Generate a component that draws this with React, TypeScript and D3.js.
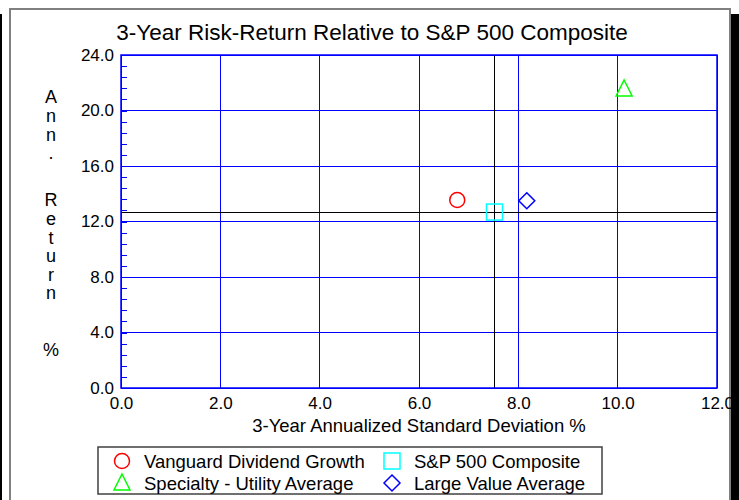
import React, { useEffect, useRef } from 'react';
import * as d3 from 'd3';

// fund + benchmark risk/return points
const seriesNames = [
  'Vanguard Dividend Growth',
  'S&P 500 Composite',
  'Specialty - Utility Average',
  'Large Value Average',
];
const stdDev = [6.77, 7.52, 10.13, 8.17];
const annReturn = [13.55, 12.68, 21.55, 13.5];
const markerShapes = ['circle', 'square', 'triangle', 'diamond'];
const markerColors = ['#ff0000', '#00ffff', '#00ff00', '#0000ff'];
const benchmarkIndex = 1;

const xTicks = [0, 2, 4, 6, 8, 10, 12];
const yTicks = [0, 4, 8, 12, 16, 20, 24];
const yMinorTicks = d3.range(0, 24.01, 0.8);

const title = '3-Year Risk-Return Relative to S&P 500 Composite';
const xTitle = '3-Year Annualized Standard Deviation %';
const yTitleWords = ['Ann.', 'Return', '%'];

const FONT = '"Liberation Sans", Arial, Helvetica, sans-serif';

function drawMarker(g: any, shape: string, cx: number, cy: number, color: string) {
  const s = 8;
  if (shape === 'circle') {
    g.append('circle').attr('cx', cx).attr('cy', cy).attr('r', 7.5);
  } else if (shape === 'square') {
    g.append('rect').attr('x', cx - s).attr('y', cy - s).attr('width', 2 * s).attr('height', 2 * s);
  } else if (shape === 'triangle') {
    g.append('path').attr('d', `M${cx},${cy - s - 1}L${cx + s},${cy + s - 1}L${cx - s},${cy + s - 1}Z`);
  } else {
    g.append('path').attr('d', `M${cx},${cy - s}L${cx + s},${cy}L${cx},${cy + s}L${cx - s},${cy}Z`);
  }
  g.selectAll('*').attr('fill', 'none').attr('stroke', color).attr('stroke-width', 1.5);
}

export default function App() {
  const svgRef = useRef<SVGSVGElement>(null);

  useEffect(() => {
    const svg = d3.select(svgRef.current);
    svg.selectAll('*').remove();

    const left = 121, right = 717, top = 55, bottom = 388;
    const x = d3.scaleLinear().domain([0, 12]).range([left, right]);
    const y = d3.scaleLinear().domain([0, 24]).range([bottom, top]);

    svg.append('rect').attr('width', 739).attr('height', 500).attr('fill', '#fff');

    // outer frame
    svg.append('rect')
      .attr('x', 10).attr('y', 9).attr('width', 720).attr('height', 500)
      .attr('fill', '#fff').attr('stroke', '#808080').attr('stroke-width', 2);

    svg.append('text')
      .attr('x', 372).attr('y', 40)
      .attr('text-anchor', 'middle')
      .style('font-family', FONT).style('font-size', '22.5px')
      .text(title);

    // grid
    const grid = svg.append('g').attr('stroke', '#0000ff').attr('stroke-width', 1).attr('shape-rendering', 'crispEdges');
    xTicks.forEach((t) => {
      grid.append('line').attr('x1', x(t)).attr('x2', x(t)).attr('y1', top).attr('y2', bottom);
    });
    yTicks.forEach((t) => {
      grid.append('line').attr('x1', left).attr('x2', right).attr('y1', y(t)).attr('y2', y(t));
    });

    // minor y ticks
    const minor = svg.append('g')
      .attr('transform', `translate(${left},0)`)
      .call(d3.axisRight(y).tickValues(yMinorTicks).tickSize(6).tickFormat(() => ''));
    minor.select('.domain').remove();
    minor.selectAll('line').attr('stroke', '#0000ff').attr('shape-rendering', 'crispEdges');

    // benchmark reference lines
    const bx = x(stdDev[benchmarkIndex]);
    const by = y(annReturn[benchmarkIndex]);
    svg.append('line').attr('x1', bx).attr('x2', bx).attr('y1', top).attr('y2', bottom)
      .attr('stroke', '#000').attr('shape-rendering', 'crispEdges');
    svg.append('line').attr('x1', left).attr('x2', right).attr('y1', by).attr('y2', by)
      .attr('stroke', '#000').attr('shape-rendering', 'crispEdges');

    // axes labels
    const xAxis = svg.append('g')
      .attr('transform', `translate(0,${bottom})`)
      .call(d3.axisBottom(x).tickValues(xTicks).tickSize(0).tickPadding(9).tickFormat(d3.format('.1f')));
    xAxis.select('.domain').remove();
    xAxis.selectAll('text').style('font-family', FONT).style('font-size', '17px').attr('fill', '#000');

    const yAxis = svg.append('g')
      .attr('transform', `translate(${left},0)`)
      .call(d3.axisLeft(y).tickValues(yTicks).tickSize(0).tickPadding(7).tickFormat(d3.format('.1f')));
    yAxis.select('.domain').remove();
    yAxis.selectAll('text').style('font-family', FONT).style('font-size', '17px').attr('fill', '#000');

    svg.append('text')
      .attr('x', (left + right) / 2).attr('y', 432)
      .attr('text-anchor', 'middle')
      .style('font-family', FONT).style('font-size', '18.5px')
      .text(xTitle);

    // vertical stacked y title
    const wordStart = [97, 200, 350];
    const lineH = 18.6;
    yTitleWords.forEach((w, wi) => {
      w.split('').forEach((ch, ci) => {
        svg.append('text')
          .attr('x', 51).attr('y', wordStart[wi] + ci * lineH)
          .attr('dy', '0.35em')
          .attr('text-anchor', 'middle')
          .style('font-family', FONT).style('font-size', '18px')
          .text(ch);
      });
    });

    // plot border
    svg.append('rect')
      .attr('x', left).attr('y', top).attr('width', right - left).attr('height', bottom - top)
      .attr('fill', 'none').attr('stroke', '#0000ff').attr('stroke-width', 1.5);

    // data markers
    seriesNames.forEach((_, i) => {
      drawMarker(svg.append('g'), markerShapes[i], x(stdDev[i]), y(annReturn[i]), markerColors[i]);
    });

    // legend
    svg.append('rect')
      .attr('x', 98).attr('y', 447).attr('width', 504).attr('height', 47)
      .attr('fill', '#fff').attr('stroke', '#404040').attr('stroke-width', 1.5);
    seriesNames.forEach((name, i) => {
      const col = i % 2, row = Math.floor(i / 2);
      const mx = 122 + col * 270;
      const my = 461 + row * 22;
      drawMarker(svg.append('g'), markerShapes[i], mx, my, markerColors[i]);
      svg.append('text')
        .attr('x', mx + 22).attr('y', my + 6.5)
        .style('font-family', FONT).style('font-size', '18.5px')
        .text(name);
    });

    // window shadow edges
    svg.append('rect').attr('x', 731).attr('y', 14).attr('width', 8).attr('height', 486).attr('fill', '#000');
    svg.append('rect').attr('x', 0).attr('y', 14).attr('width', 2).attr('height', 486).attr('fill', '#000');
  }, []);

  return (
    <div>
      <svg ref={svgRef} width={739} height={500} style={{ position: 'absolute', left: 0, top: 0 }}></svg>
    </div>
  );
}
